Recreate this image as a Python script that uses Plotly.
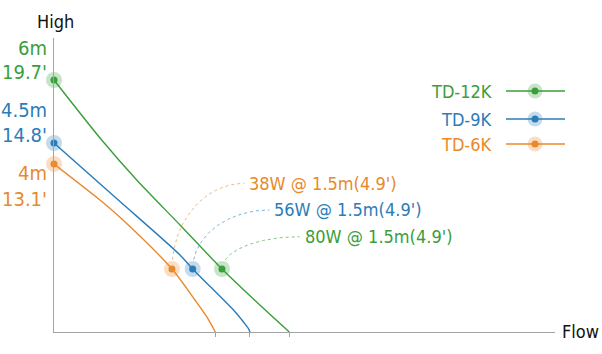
import numpy as np
import plotly.graph_objects as go

# ---------------- data ----------------
series_names = ["TD-12K", "TD-9K", "TD-6K"]
watts = [80, 56, 38]
max_head_m = ["6m", "4.5m", "4m"]
max_head_ft = ["19.7'", "14.8'", "13.1'"]

flow_12k = [0, 0.952, 1.651, 2.515, 3.353, 4.012, 4.697]
head_12k = [6.0, 4.571, 3.619, 2.548, 1.5, 0.75, 0]

flow_9k = [0, 1.283, 2.515, 2.768, 3.613, 3.778, 3.878, 3.912]
head_9k = [4.5, 3.143, 1.833, 1.5, 0.483, 0.245, 0.088, 0]

flow_6k = [0, 0.918, 1.317, 2.355, 2.814, 3.048, 3.22]
head_6k = [4.0, 3.143, 2.731, 1.5, 0.762, 0.364, 0]

op_flow = [3.353, 2.768, 2.355]
op_head = [1.5, 1.5, 1.5]
op_head_label = "1.5m(4.9')"

# ---------------- styles / positions ----------------
colors = ["#3a9e3a", "#2b7cb8", "#e8892c"]
halos = ["rgba(58,158,58,0.28)", "rgba(43,124,184,0.28)", "rgba(232,137,44,0.28)"]
FONT = "DejaVu Sans Condensed, DejaVu Sans, sans-serif"
W, H = 602, 354
X0, X1, YB, YT = 54, 555, 332, 38
XR, YR = 10.0, 7.0
pxx = (X1 - X0) / XR
pxy = (YB - YT) / YR

label_pos = [(4.96, 2.269), (4.36, 2.905), (3.86, 3.54)]
head_label_shift = [(32, 8), (33, 8), (-9, -35)]
legend_y = [91, 119, 144]

flows = [flow_12k, flow_9k, flow_6k]
heads = [head_12k, head_9k, head_6k]

fig = go.Figure()

# curves
for i in range(3):
    fig.add_trace(go.Scatter(x=flows[i], y=heads[i], mode="lines",
                             line=dict(color=colors[i], width=1.4, shape="spline", smoothing=0.8),
                             hoverinfo="skip"))

# dotted connectors (quarter ellipse from operating point to label)
for i in range(3):
    px, py = op_flow[i], op_head[i]
    lx, ly = label_pos[i]
    lx_end = lx - 3 / pxx
    th = np.linspace(0, np.pi / 2, 60)
    cx = lx_end - (lx_end - px) * np.cos(th)
    cy = py + (ly - py) * np.sin(th)
    d = np.hypot((cx - px) * pxx, (cy - py) * pxy)
    keep = d > 9
    fig.add_trace(go.Scatter(x=cx[keep], y=cy[keep], mode="lines",
                             line=dict(color=colors[i], width=1, dash="dot"),
                             opacity=0.6, hoverinfo="skip"))

# start points and operating points
for i in range(3):
    xs = [flows[i][0], op_flow[i]]
    ys = [heads[i][0], op_head[i]]
    fig.add_trace(go.Scatter(x=xs, y=ys, mode="markers",
                             marker=dict(size=16, color=halos[i], line=dict(width=0)),
                             hoverinfo="skip", cliponaxis=False))
    fig.add_trace(go.Scatter(x=xs, y=ys, mode="markers",
                             marker=dict(size=7, color=colors[i], line=dict(width=0)),
                             hoverinfo="skip", cliponaxis=False))

# legend (custom, text left of symbol) on full-figure pixel subplot
for i in range(3):
    ly = legend_y[i]
    fig.add_trace(go.Scatter(x=[506, 565], y=[ly, ly], mode="lines", xaxis="x2", yaxis="y2",
                             line=dict(color=colors[i], width=1.4), hoverinfo="skip"))
    fig.add_trace(go.Scatter(x=[535], y=[ly], mode="markers", xaxis="x2", yaxis="y2",
                             marker=dict(size=15, color=halos[i]), hoverinfo="skip"))
    fig.add_trace(go.Scatter(x=[535], y=[ly], mode="markers", xaxis="x2", yaxis="y2",
                             marker=dict(size=7, color=colors[i]), hoverinfo="skip"))

annotations = []
for i in range(3):
    annotations.append(dict(xref="x2", yref="y2", x=494, y=legend_y[i], text=series_names[i],
                            showarrow=False, xanchor="right", yanchor="middle",
                            font=dict(family=FONT, size=18, color=colors[i])))
    lx, ly = label_pos[i]
    annotations.append(dict(xref="x", yref="y", x=lx, y=ly,
                            text=f"{watts[i]}W @ {op_head_label}",
                            showarrow=False, xanchor="left", yanchor="middle",
                            font=dict(family=FONT, size=18, color=colors[i])))
    s1, s2 = head_label_shift[i]
    annotations.append(dict(xref="x", yref="y", x=0, y=heads[i][0], text=max_head_m[i],
                            showarrow=False, xanchor="right", yanchor="middle", xshift=-5, yshift=s1,
                            font=dict(family=FONT, size=20, color=colors[i])))
    annotations.append(dict(xref="x", yref="y", x=0, y=heads[i][0], text=max_head_ft[i],
                            showarrow=False, xanchor="right", yanchor="middle", xshift=-5, yshift=s2,
                            font=dict(family=FONT, size=20, color=colors[i])))

annotations.append(dict(xref="x2", yref="y2", x=55, y=21, text="High", showarrow=False,
                        xanchor="center", yanchor="middle",
                        font=dict(family=FONT, size=18, color="#111")))
annotations.append(dict(xref="x2", yref="y2", x=560, y=331, text="Flow", showarrow=False,
                        xanchor="left", yanchor="middle",
                        font=dict(family=FONT, size=18, color="#111")))

axis_col = "#a3a3a3"
fig.update_layout(
    width=W, height=H, margin=dict(l=0, r=0, t=0, b=0),
    paper_bgcolor="white", plot_bgcolor="rgba(0,0,0,0)", showlegend=False,
    xaxis=dict(domain=[X0 / W, X1 / W], range=[0, XR], showline=True, linecolor=axis_col,
               linewidth=1.2, showgrid=False, zeroline=False, ticks="outside", ticklen=4,
               tickcolor=axis_col, tickwidth=1.2,
               tickvals=[flow_12k[-1], flow_9k[-1], flow_6k[-1]], showticklabels=False,
               fixedrange=True),
    yaxis=dict(domain=[(H - YB) / H, (H - YT) / H], range=[0, YR], showline=True,
               linecolor=axis_col, linewidth=1.2, showgrid=False, zeroline=False,
               showticklabels=False, ticks="", fixedrange=True),
    xaxis2=dict(domain=[0, 1], range=[0, W], visible=False, anchor="y2", fixedrange=True),
    yaxis2=dict(domain=[0, 1], range=[H, 0], visible=False, anchor="x2", fixedrange=True),
    annotations=annotations,
)

fig.write_html("out.html")
